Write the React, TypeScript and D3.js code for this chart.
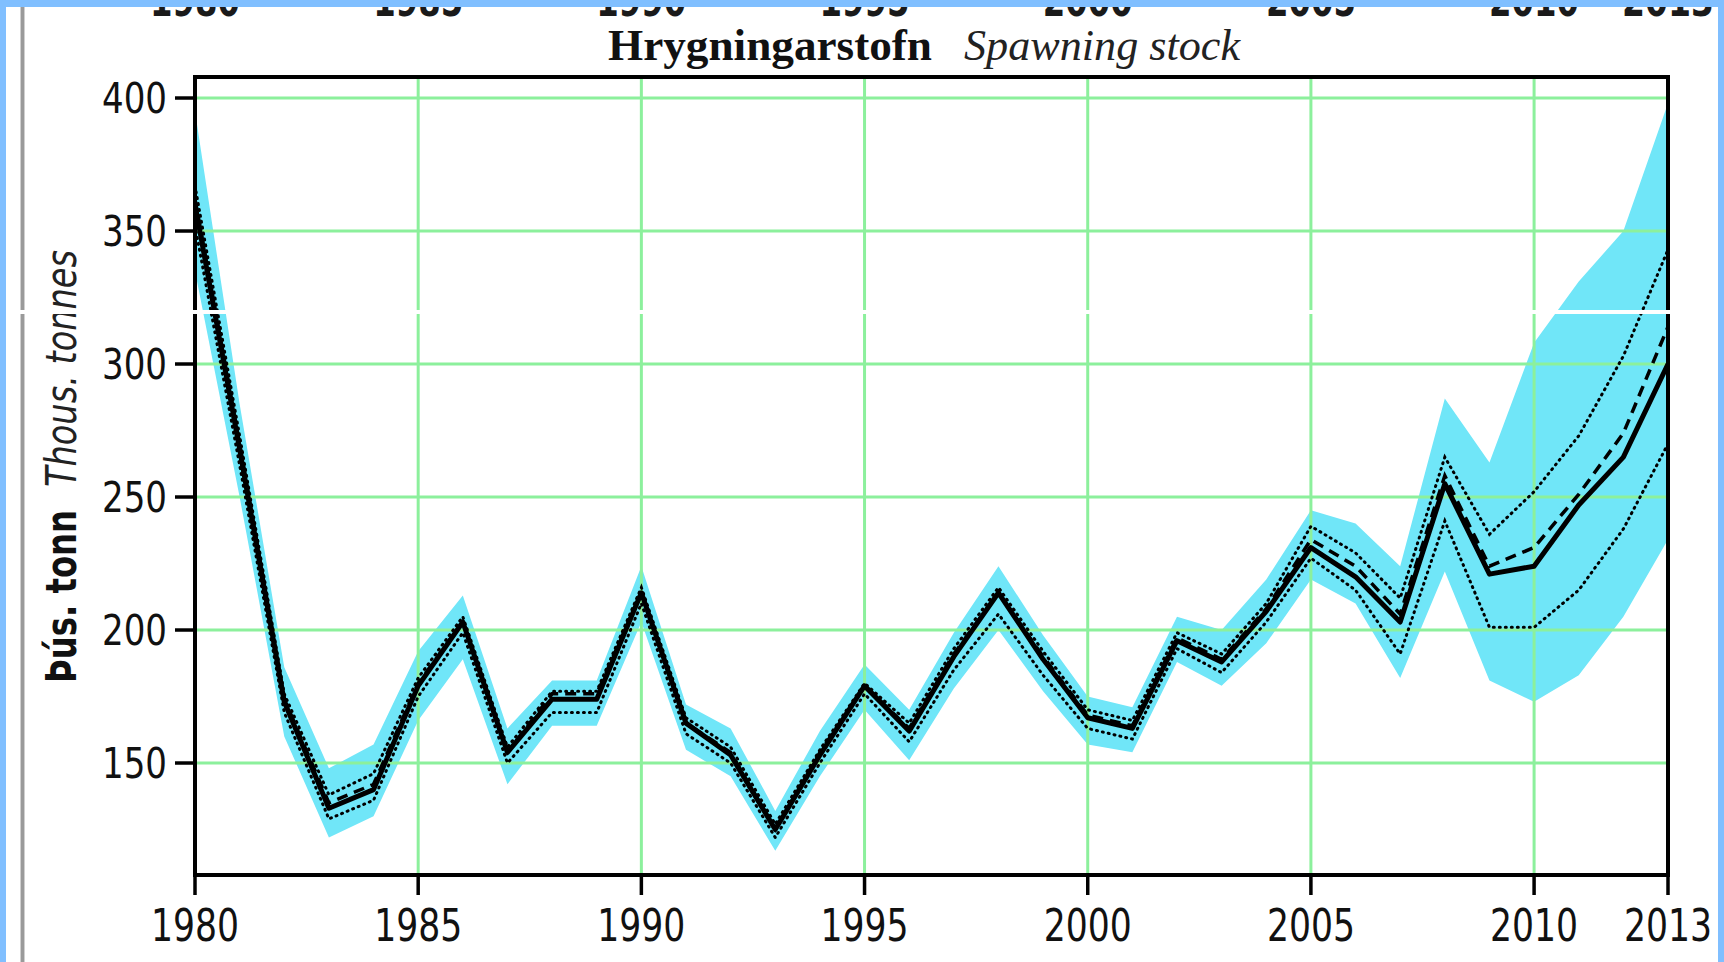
import React from "react";
import * as d3 from "d3";

const years = [1980, 1981, 1982, 1983, 1984, 1985, 1986, 1987, 1988, 1989, 1990, 1991, 1992, 1993, 1994, 1995, 1996, 1997, 1998, 1999, 2000, 2001, 2002, 2003, 2004, 2005, 2006, 2007, 2008, 2009, 2010, 2011, 2012, 2013];

const ssbMain = [360, 268, 173, 133, 140, 179, 203, 154, 174, 174, 214, 165, 153, 125, 153, 179, 162, 190, 214, 189, 167, 163, 196, 188, 207, 231, 220, 203, 255, 221, 224, 247, 265, 300];
const ssbDashed = [362, 270, 174, 135, 142, 180, 203, 154, 176, 176, 214, 165, 154, 125, 154, 179, 163, 191, 214, 190, 168, 164, 197, 189, 208, 234, 224, 206, 258, 224, 231, 251, 274, 314];
const ssbDotHigh = [367, 273, 176, 138, 146, 182, 205, 156, 177, 177, 216, 167, 156, 127, 155, 180, 165, 193, 216, 192, 170, 166, 199, 191, 210, 239, 229, 212, 265, 236, 252, 273, 303, 343];
const ssbDotLow = [352, 262, 169, 129, 136, 175, 199, 150, 169, 169, 210, 161, 150, 122, 150, 176, 158, 185, 206, 183, 163, 159, 193, 184, 203, 227, 215, 191, 241, 201, 201, 215, 238, 270];
const bandHigh = [395, 285, 186, 148, 157, 192, 213, 163, 181, 181, 224, 172, 163, 132, 162, 187, 170, 199, 224, 198, 175, 171, 205, 200, 219, 245, 240, 224, 287, 263, 308, 331, 350, 398];
const bandLow = [335, 250, 160, 122, 130, 166, 189, 142, 164, 164, 203, 155, 145, 117, 145, 170, 151, 178, 200, 177, 157, 154, 188, 179, 195, 219, 210, 182, 222, 181, 173, 183, 205, 234];

const xTicks = [1980, 1985, 1990, 1995, 2000, 2005, 2010, 2013];
const xGrid = [1985, 1990, 1995, 2000, 2005, 2010];
const yTicks = [150, 200, 250, 300, 350, 400];

const titleIs = "Hrygningarstofn";
const titleEn = "Spawning stock";
const yLabelIs = "Þús. tonn";
const yLabelEn = "Thous. tonnes";

const W = 1724;
const H = 962;
const L = 195, R = 1668, T = 77, B = 875;

const SANS = "'DejaVu Sans Condensed', 'DejaVu Sans', sans-serif";
const SERIF = "'Liberation Serif', 'Times New Roman', serif";
const GRID = "#8cf09c";
const CYAN = "#70e6f8";
const BLUE = "#80bfff";

export default function App() {
  const x = d3.scaleLinear().domain([1980, 2013]).range([L, R]);
  const y = d3.scaleLinear().domain([107.9, 407.9]).range([B, T]);

  const idx = years.map((_, i) => i);
  const area = d3
    .area<number>()
    .x((i) => x(years[i]))
    .y0((i) => y(bandLow[i]))
    .y1((i) => y(bandHigh[i]));
  const line = (arr: number[]) =>
    d3
      .line<number>()
      .x((i) => x(years[i]))
      .y((i) => y(arr[i]))(idx) || "";

  return (
    <svg
      width={W}
      height={H}
      style={{ position: "absolute", left: 0, top: 0, background: "#fff" }}
    >
      <defs>
        <clipPath id="plot">
          <rect x={L} y={T} width={R - L} height={B - T} />
        </clipPath>
      </defs>
      <rect x={0} y={0} width={W} height={H} fill="#fff" />

      {/* cut-off labels of the chart above */}
      {xTicks.map((t) => (
        <text
          key={"top" + t}
          x={x(t)}
          y={16}
          textAnchor="middle"
          fontFamily={SANS}
          fontSize={44}
          fontWeight="bold"
          fill="#1a1a1a"
          textLength={t === 2013 ? 92 : 90}
          lengthAdjust="spacingAndGlyphs"
        >
          {t}
        </text>
      ))}

      {/* gray page edge line */}
      <rect x={21} y={0} width={3} height={H} fill="#9a9a9a" />
      <rect x={20} y={0} width={1} height={H} fill="#d0d0d0" />
      <rect x={24} y={0} width={1} height={H} fill="#d0d0d0" />

      {/* title */}
      <text
        x={608}
        y={60}
        fontFamily={SERIF}
        fontSize={45}
        fontWeight="bold"
        fill="#111"
        textLength={324}
        lengthAdjust="spacingAndGlyphs"
      >
        {titleIs}
      </text>
      <text
        x={964}
        y={60}
        fontFamily={SERIF}
        fontSize={45}
        fontStyle="italic"
        fill="#222"
        textLength={276}
        lengthAdjust="spacingAndGlyphs"
      >
        {titleEn}
      </text>

      {/* y axis title */}
      <g transform="translate(76,0) rotate(-90)">
        <text
          x={-683}
          y={0}
          fontFamily={SANS}
          fontSize={42}
          fontWeight="bold"
          fill="#111"
          textLength={173}
          lengthAdjust="spacingAndGlyphs"
        >
          {yLabelIs}
        </text>
        <text
          x={-487}
          y={0}
          fontFamily={SANS}
          fontSize={42}
          fontStyle="italic"
          fill="#222"
          textLength={237}
          lengthAdjust="spacingAndGlyphs"
        >
          {yLabelEn}
        </text>
      </g>

      {/* plot content */}
      <g clipPath="url(#plot)">
        <path d={area(idx) || ""} fill={CYAN} />
        {xGrid.map((t) => (
          <line key={"gx" + t} x1={x(t)} x2={x(t)} y1={T} y2={B} stroke={GRID} strokeWidth={3} />
        ))}
        {yTicks.map((t) => (
          <line key={"gy" + t} x1={L} x2={R} y1={y(t)} y2={y(t)} stroke={GRID} strokeWidth={3} />
        ))}
        <path d={line(ssbDotHigh)} fill="none" stroke="#000" strokeWidth={3} strokeDasharray="1 5" strokeLinecap="round" />
        <path d={line(ssbDotLow)} fill="none" stroke="#000" strokeWidth={3} strokeDasharray="1 5" strokeLinecap="round" />
        <path d={line(ssbDashed)} fill="none" stroke="#000" strokeWidth={3.5} strokeDasharray="11 7" />
        <path d={line(ssbMain)} fill="none" stroke="#000" strokeWidth={5} strokeLinejoin="round" />
      </g>

      {/* frame */}
      <rect x={L} y={T} width={R - L} height={B - T} fill="none" stroke="#000" strokeWidth={4} />

      {/* y ticks */}
      {yTicks.map((t) => (
        <g key={"yt" + t}>
          <line x1={L - 20} x2={L} y1={y(t)} y2={y(t)} stroke="#000" strokeWidth={3.5} />
          <text
            x={167}
            y={y(t) + 15}
            textAnchor="end"
            fontFamily={SANS}
            fontSize={42}
            fill="#111"
            textLength={65}
            lengthAdjust="spacingAndGlyphs"
          >
            {t}
          </text>
        </g>
      ))}

      {/* x ticks */}
      {xTicks.map((t) => (
        <g key={"xt" + t}>
          <line x1={x(t)} x2={x(t)} y1={B} y2={B + 20} stroke="#000" strokeWidth={3.5} />
          <text
            x={x(t)}
            y={941}
            textAnchor="middle"
            fontFamily={SANS}
            fontSize={44}
            fill="#111"
            textLength={88}
            lengthAdjust="spacingAndGlyphs"
          >
            {t}
          </text>
        </g>
      ))}

      {/* accent of the next chart's title */}
      <text x={806} y={990} textAnchor="middle" fontFamily={SERIF} fontSize={40} fill="#222">
        ´
      </text>

      {/* scan seam */}
      <rect x={7} y={310} width={1700} height={4} fill="#fff" />

      {/* blue window borders */}
      <rect x={0} y={0} width={W} height={7} fill={BLUE} />
      <rect x={0} y={0} width={6} height={H} fill={BLUE} />
      <rect x={W - 6} y={0} width={6} height={H} fill={BLUE} />
    </svg>
  );
}
